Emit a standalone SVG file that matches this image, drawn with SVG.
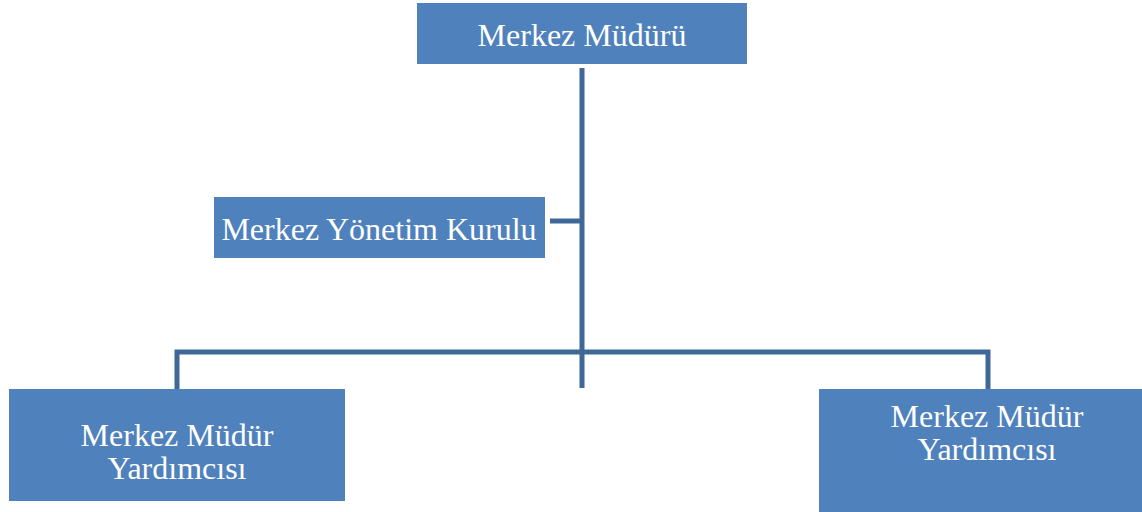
<svg xmlns="http://www.w3.org/2000/svg" width="1142" height="512" viewBox="0 0 1142 512">
<style>
.box{fill:#4F81BD;}
.t{font-family:"Liberation Serif","Times New Roman",serif;font-size:32px;fill:#FFFFFF;text-anchor:middle;}
.c{fill:none;stroke:#3F6898;stroke-width:5;stroke-linejoin:miter;}
</style>
<rect width="1142" height="512" fill="#FFFFFF"/>
<g id="connectors">
<path class="c" d="M582,68 V388"/>
<path class="c" d="M550,221 H582"/>
<path class="c" d="M177,389 V352 H988 V389"/>
</g>
<g id="merkez-muduru">
<rect class="box" x="417" y="3" width="330" height="61"/>
<text class="t" x="582" y="46">Merkez Müdürü</text>
</g>
<g id="yonetim-kurulu">
<rect class="box" x="214" y="197" width="331" height="61"/>
<text class="t" x="379" y="240">Merkez Yönetim Kurulu</text>
</g>
<g id="yardimci-sol">
<rect class="box" x="9" y="389" width="336" height="112"/>
<text class="t" x="177" y="446">Merkez Müdür</text>
<text class="t" x="177" y="479">Yardımcısı</text>
</g>
<g id="yardimci-sag">
<rect class="box" x="819" y="389" width="323" height="123"/>
<text class="t" x="987" y="427">Merkez Müdür</text>
<text class="t" x="987" y="460">Yardımcısı</text>
</g>
</svg>
